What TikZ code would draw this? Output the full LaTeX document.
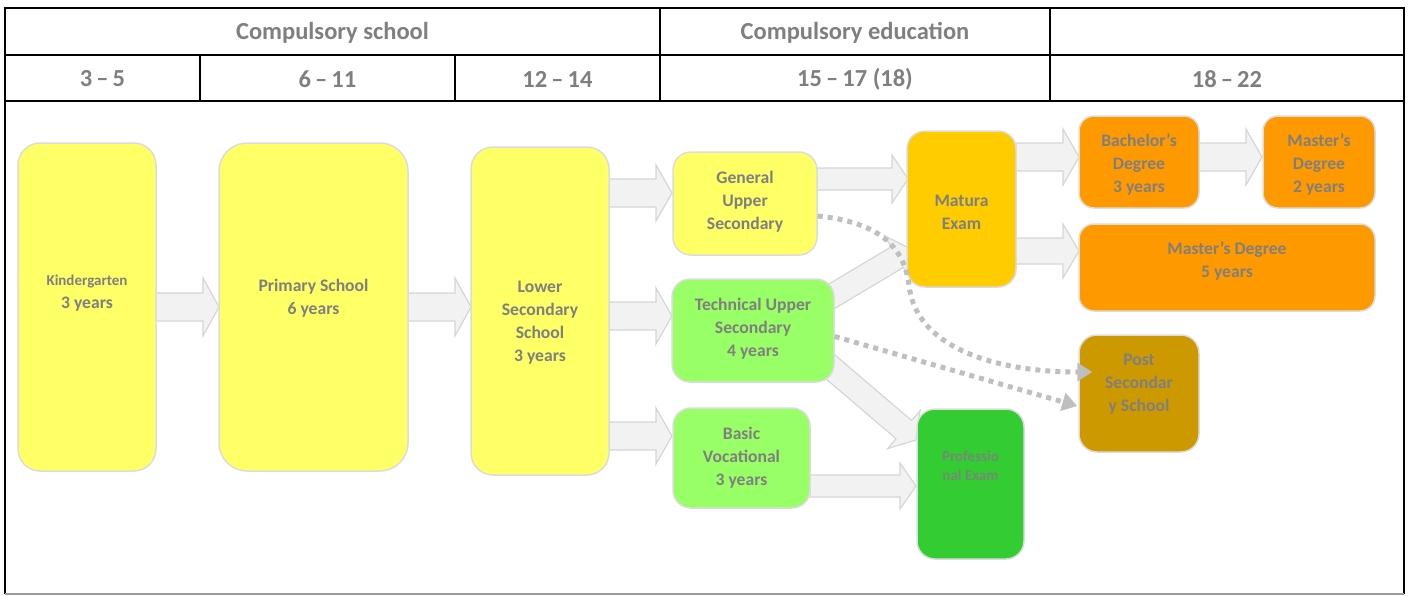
\documentclass[tikz,border=0pt]{standalone}
\usepackage{fontspec}
\setmainfont{Carlito}
\usetikzlibrary{calc,arrows.meta}
\definecolor{txtgray}{HTML}{7F7F7F}
\definecolor{boxline}{HTML}{DCDCDC}
\definecolor{yel}{HTML}{FFFF66}
\definecolor{gold}{HTML}{FFCC00}
\definecolor{orng}{HTML}{FF9900}
\definecolor{lgreen}{HTML}{99FF66}
\definecolor{dgreen}{HTML}{33CC33}
\definecolor{ochre}{HTML}{CC9900}
\definecolor{arrfill}{HTML}{F2F2F2}
\definecolor{arrline}{HTML}{D6D6D6}
\definecolor{dotgray}{HTML}{BFBFBF}
\definecolor{tblgray}{HTML}{9A9A9A}
\tikzset{
  box/.style={draw=boxline, line width=1.5pt, rounded corners=18pt, inner sep=0pt},
  txt/.style={text=txtgray, font=\bfseries\fontsize{17.6}{23}\selectfont, align=center, inner sep=0pt},
  hdr/.style={text=txtgray, font=\bfseries\fontsize{24.5}{28}\selectfont},
  tbl/.style={line width=1.3pt, draw=black},
  barr/.style={fill=arrfill, draw=arrline, line width=1.2pt, line join=miter},
  dotarr/.style={draw=dotgray, line width=5pt, dash pattern=on 5pt off 5pt,
    -{Triangle[length=15pt,width=18pt]}}
}
% #1 shaft half width, #2 head half width, #3 start, #4 tip
\newcommand{\barrow}[4]{%
  \coordinate (bS) at (#3);
  \coordinate (bT) at (#4);
  \coordinate (bH) at ($(bT)!16pt!(bS)$);
  \path[barr] ($(bS)!#1pt!90:(bT)$) -- ($(bH)!#1pt!90:(bT)$) -- ($(bH)!#2pt!90:(bT)$)
    -- (bT) -- ($(bH)!#2pt!-90:(bT)$) -- ($(bH)!#1pt!-90:(bT)$) -- ($(bS)!#1pt!-90:(bT)$) -- cycle;}
\begin{document}
\begin{tikzpicture}[x=1pt,y=-1pt]
\useasboundingbox (0,0) rectangle (1411,595);
% ---- table ----
\draw[tbl] (5,594) -- (5,8) -- (1404,8) -- (1404,594);
\draw[line width=1.3pt, draw=tblgray] (5,594) -- (1404,594);
\draw[tbl] (5,55) -- (1404,55);
\draw[tbl] (5,101) -- (1404,101);
\draw[tbl] (660,8) -- (660,101);
\draw[tbl] (1050,8) -- (1050,101);
\draw[tbl] (200,55) -- (200,101);
\draw[tbl] (455,55) -- (455,101);
\node[hdr] (h1) at (332.5,32.5) {Compulsory school};
\node[hdr] (h2) at (855,32.5) {Compulsory education};
\node[hdr] (a1) at (102.5,79) {3\,–\,5};
\node[hdr] (a2) at (327.5,79) {6\,–\,11};
\node[hdr] (a3) at (557.5,79) {12\,–\,14};
\node[hdr] (a4) at (855,79) {15\,–\,17 (18)};
\node[hdr] (a5) at (1227,79) {18\,–\,22};
% ---- block arrows ----
\barrow{14}{29}{156,307}{219,307}
\barrow{14}{29}{408,307}{471,307}
\barrow{14}{28}{609,193}{672,193}
\barrow{14}{28}{609,316}{672,316}
\barrow{14}{28}{609,436}{672,436}
\barrow{11}{24}{817,179}{908,179}
\barrow{12}{25}{812,308}{911,249}
\barrow{12}{25}{820,358}{916,440}
\barrow{11}{23}{810,486}{916,486}
\barrow{14}{28}{1016,157}{1079,157}
\barrow{14}{28}{1199,157}{1262,157}
\barrow{13}{27}{1016,251}{1079,251}
% ---- boxes ----
\node[box, fill=yel, minimum width=138pt, minimum height=328pt, rounded corners=22pt,
  label={[txt,yshift=14pt]center:{\fontsize{15}{20}\selectfont Kindergarten}\\3 years}] (kg) at (87,307) {};
\node[box, fill=yel, minimum width=189pt, minimum height=328pt, rounded corners=28pt,
  label={[txt,yshift=8.5pt]center:Primary School\\6 years}] (ps) at (313.5,307) {};
\node[box, fill=yel, minimum width=138pt, minimum height=328pt, rounded corners=22pt,
  label={[txt,yshift=-11.5pt]center:Lower\\Secondary\\School\\3 years}] (ls) at (540,311) {};
\node[box, fill=yel, minimum width=144pt, minimum height=103pt,
  label={[txt,yshift=2pt]center:General\\Upper\\Secondary}] (gu) at (745,203.5) {};
\node[box, fill=lgreen, minimum width=162pt, minimum height=103pt,
  label={[txt,yshift=1.5pt]center:Technical Upper\\Secondary\\4 years}] (tu) at (753,330.5) {};
\node[box, fill=lgreen, minimum width=137pt, minimum height=100pt,
  label={[txt]center:Basic\\Vocational\\3 years}] (bv) at (741.5,458) {};
\node[box, fill=gold, minimum width=109pt, minimum height=156pt,
  label={[txt,yshift=-3.5pt]center:Matura\\Exam}] (ma) at (961.5,209) {};
\node[box, fill=dgreen, minimum width=107pt, minimum height=150pt,
  label={[txt,yshift=18.5pt,font=\bfseries\fontsize{15}{19}\selectfont,text=txtgray!85!dgreen]center:Professio\\nal Exam}] (pe) at (970.5,484) {};
\node[box, fill=orng, minimum width=120pt, minimum height=92pt, rounded corners=15pt,
  label={[txt,yshift=-2.7pt]center:Bachelor’s\\Degree\\3 years}] (ba) at (1139,162) {};
\node[box, fill=orng, minimum width=112pt, minimum height=92pt, rounded corners=15pt,
  label={[txt,yshift=-2.7pt]center:Master’s\\Degree\\2 years}] (m2) at (1319,162) {};
\node[box, fill=orng, minimum width=296pt, minimum height=87pt, rounded corners=15pt,
  label={[txt,yshift=7pt]center:Master’s Degree\\5 years}] (m5) at (1227,267.5) {};
\node[box, fill=ochre, minimum width=120pt, minimum height=117pt,
  label={[txt,yshift=9pt]center:Post\\Secondar\\y School}] (po) at (1139,393.5) {};
% ---- dotted arrows ----
\draw[dotarr] ($(gu.east)+(0,12.5)$) .. controls (878,222) and (904,246) .. (909,285)
  .. controls (915,345) and (990,372) .. ($(po.west)+(14,-21.5)$);
\draw[dotarr] ($(tu.east)+(0,6)$) -- ($(po.west)+(-1,12.5)$);
\end{tikzpicture}
\end{document}
